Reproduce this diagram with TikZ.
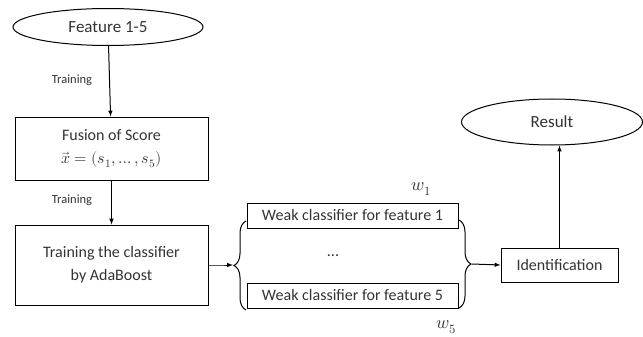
\documentclass[tikz,border=0pt]{standalone}
\usepackage{unicode-math}
\setmainfont{Carlito}
\setmathfont{Latin Modern Math}
\usetikzlibrary{shapes.geometric,decorations.pathreplacing}
\definecolor{txtgray}{HTML}{333333}
\begin{document}
\begin{tikzpicture}[x=1pt,y=1pt,
	line width=1pt,
	every node/.style={text=txtgray},
	ell/.style={ellipse,draw,inner sep=0pt,font=\fontsize{17}{20}\selectfont},
	box/.style={rectangle,draw,inner sep=0pt,align=center,font=\fontsize{16}{23}\selectfont},
	lbl/.style={font=\fontsize{12.5}{14}\selectfont},
	mth/.style={font=\fontsize{18}{20}\selectfont},
	brc/.style={decorate,decoration={brace,amplitude=12pt}},
	>=latex]
	%Bounding box
	\useasboundingbox (0,0) rectangle (643,-337) ;
	%Ellipses
	\node [ell,minimum width=190,minimum height=37]	(feat)	at (108,-27)	{Feature 1-5} ;
	\node [ell,minimum width=181,minimum height=46]	(res)	at (552,-122)	{Result} ;
	%Boxes
	\node [box,minimum width=193,minimum height=63]	(fus)	at (111.5,-148.5)	{Fusion of Score\\$\vec{x}=(s_1,\ldots,s_5)$} ;
	\node [box,minimum width=193,minimum height=80]	(train)	at (111.5,-265)	{Training the classifier\\by AdaBoost} ;
	\node [box,minimum width=211,minimum height=25]	(weak1)	at (352.5,-215.5)	{Weak classifier for feature 1} ;
	\node [box,minimum width=211,minimum height=25]	(weak5)	at (352.5,-295.5)	{Weak classifier for feature 5} ;
	\node [box,minimum width=117,minimum height=34]	(ident)	at (559.5,-265)	{Identification} ;
	%Labels
	\node [lbl]	(tr1)	at (72,-80)		{Training} ;
	\node [lbl]	(tr2)	at (72,-200)	{Training} ;
	\node [font=\fontsize{16}{18}\selectfont]	(dots)	at (333,-256)	{...} ;
	\node [mth]	(w1)	at (421,-189)	{$w_1$} ;
	\node [mth]	(w5)	at (446,-327)	{$w_5$} ;
	%Braces
	\coordinate (ltip) at (233,-265) ;
	\coordinate (rtip) at (472,-264) ;
	\draw [brc]	(246,-310) -- (246,-221) ;
	\draw [brc]	(459,-220) -- (459,-308) ;
	%Arrows
	\draw [->]	(feat)	-- (fus) ;
	\draw [->]	(fus)	-- (train) ;
	\draw [->]	(train.east)	-- ([xshift=-11pt]ltip) -- (ltip) ;
	\draw [->]	(rtip)	-- (ident.west) ;
	\draw [->]	(ident.north)	-- (ident.north |- res.south) ;
\end{tikzpicture}
\end{document}
